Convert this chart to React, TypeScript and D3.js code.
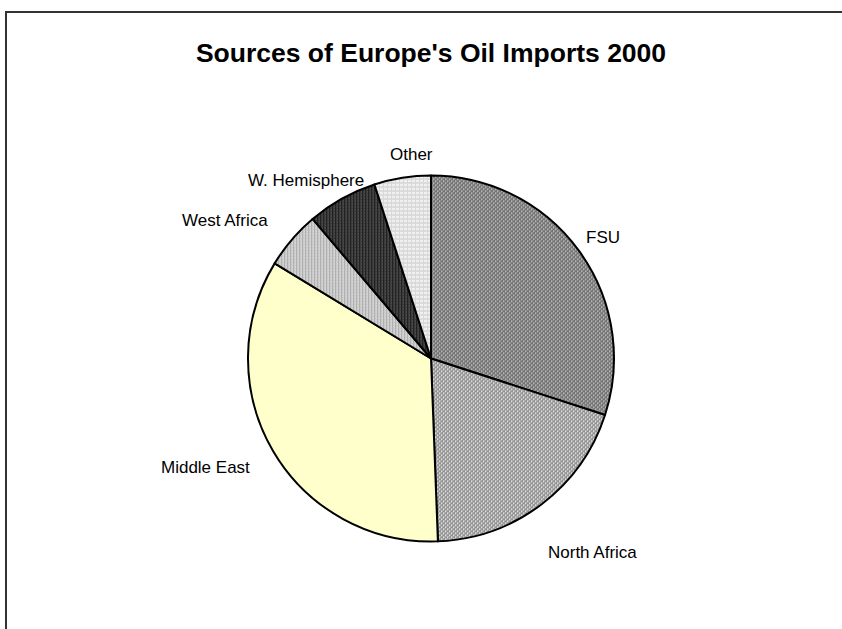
import React from "react";
import * as d3 from "d3";

const categories = ["FSU", "North Africa", "Middle East", "West Africa", "W. Hemisphere", "Other"];
const shares = [30.0, 19.4, 34.3, 5.1, 6.2, 5.0];
const fills = ["url(#pFSU)", "url(#pNA)", "#FFFFCC", "url(#pWA)", "url(#pWH)", "url(#pOT)"];
const labelPos: [number, number][] = [
  [586, 243],
  [548, 558],
  [161, 473],
  [182, 226],
  [248, 186],
  [390, 160],
];

const W = 842;
const H = 629;
const cx = 431;
const cy = 358.5;
const R = 183;

export default function App() {
  const pie = d3
    .pie<number>()
    .sort(null)
    .startAngle(0)
    .endAngle(2 * Math.PI)
    .value((d) => d);
  const arcs = pie(shares);
  const arc = d3.arc<d3.PieArcDatum<number>>().innerRadius(0).outerRadius(R);

  return (
    <svg
      width={W}
      height={H}
      style={{ position: "absolute", left: 0, top: 0, background: "#fff" }}
      fontFamily="'Liberation Sans', Arial, sans-serif"
    >
      <defs>
        <pattern id="pFSU" width="4" height="4" patternUnits="userSpaceOnUse">
          <rect width="4" height="4" fill="#8c8c8c" />
          <rect x="0" y="0" width="2" height="1" fill="#5c5c5c" />
          <rect x="2" y="2" width="2" height="1" fill="#5c5c5c" />
          <rect x="2" y="0" width="1" height="2" fill="#b4b4b4" />
          <rect x="0" y="2" width="1" height="2" fill="#b4b4b4" />
        </pattern>
        <pattern id="pNA" width="4" height="4" patternUnits="userSpaceOnUse">
          <rect width="4" height="4" fill="#acacac" />
          <rect x="0" y="0" width="2" height="1" fill="#7a7a7a" />
          <rect x="2" y="2" width="2" height="1" fill="#7a7a7a" />
          <rect x="2" y="0" width="1" height="2" fill="#dcdcdc" />
          <rect x="0" y="2" width="1" height="2" fill="#dcdcdc" />
        </pattern>
        <pattern id="pWA" width="3" height="3" patternUnits="userSpaceOnUse">
          <rect width="3" height="3" fill="#cacaca" />
          <rect x="0" y="0" width="1" height="3" fill="#b0b0b0" />
          <rect x="2" y="1" width="1" height="1" fill="#e0e0e0" />
        </pattern>
        <pattern id="pWH" width="3" height="3" patternUnits="userSpaceOnUse">
          <rect width="3" height="3" fill="#3a3a3a" />
          <rect x="0" y="0" width="1" height="3" fill="#222" />
          <rect x="2" y="1" width="1" height="1" fill="#5a5a5a" />
        </pattern>
        <pattern id="pOT" width="4" height="4" patternUnits="userSpaceOnUse">
          <rect width="4" height="4" fill="#f0f0f0" />
          <rect x="0" y="0" width="4" height="1" fill="#c8c8c8" />
          <rect x="0" y="0" width="1" height="4" fill="#d8d8d8" />
        </pattern>
      </defs>
      <rect x={6} y={12} width={W + 20} height={H + 20} fill="#fff" stroke="#333" strokeWidth={2} />
      <text x={431} y={62} textAnchor="middle" fontSize={26.5} fontWeight="bold" fill="#000">
        Sources of Europe's Oil Imports 2000
      </text>
      <g transform={`translate(${cx},${cy})`}>
        {arcs.map((a, i) => (
          <path key={categories[i]} d={arc(a) || ""} fill={fills[i]} stroke="#000" strokeWidth={2} strokeLinejoin="round" />
        ))}
      </g>
      {categories.map((c, i) => (
        <text key={c} x={labelPos[i][0]} y={labelPos[i][1]} fontSize={17} fill="#000">
          {c}
        </text>
      ))}
    </svg>
  );
}
